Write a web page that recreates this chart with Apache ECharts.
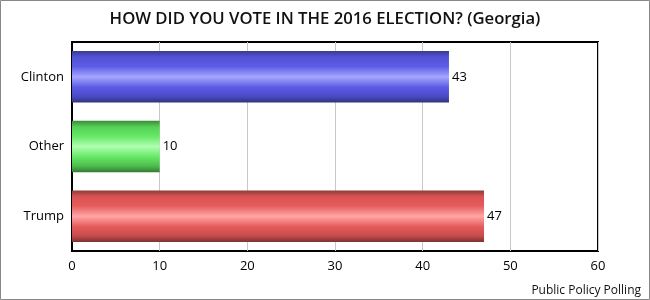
<!DOCTYPE html>
<html><head><meta charset="utf-8">
<script src="https://cdn.jsdelivr.net/npm/echarts@6/dist/echarts.min.js"></script>
<style>html,body{margin:0;padding:0;background:#fff}#c{width:650px;height:300px}</style>
</head><body><div id="c"></div>
<script>
const categories = ['Clinton', 'Other', 'Trump'];
const values = [43, 10, 47];
const xTicks = [0, 10, 20, 30, 40, 50, 60];
const titleText = 'HOW DID YOU VOTE IN THE 2016 ELECTION? (Georgia)';
const sourceText = 'Public Policy Polling';
const palettes = [
  ['#3a3a8c', '#5252d8', '#5c5ce6', '#a6a6ff', '#5c5ce6', '#4a4ac8', '#33337a'],
  ['#3a8a3a', '#55d055', '#66e866', '#b0ffb0', '#66e866', '#4cbc4c', '#347a34'],
  ['#8c3a3a', '#d85252', '#e65c5c', '#ffa6a6', '#e65c5c', '#c84a4a', '#7a3333']
];
function grad(p) {
  const offs = [0, 0.12, 0.3, 0.5, 0.7, 0.88, 1];
  return new echarts.graphic.LinearGradient(0, 0, 0, 1, p.map((c, i) => ({offset: offs[i], color: c})));
}
const chart = echarts.init(document.getElementById('c'), null, {renderer: 'canvas'});
const font = '"Open Sans", sans-serif';
chart.setOption({
  animation: false,
  title: {text: titleText, left: 'center', top: 6,
    textStyle: {fontFamily: font, fontSize: 16.7, fontWeight: 600, color: '#111'}},
  graphic: [
    {type: 'rect', shape: {x: 0.5, y: 0.5, width: 649, height: 299}, style: {fill: 'none', stroke: '#888', lineWidth: 1}, z: 100},
    {type: 'text', right: 9, top: 285, style: {text: sourceText, font: '12px "Open Sans", sans-serif', fill: '#111'}}
  ],
  grid: {left: 72, right: 52, top: 42, bottom: 49, show: true, borderColor: '#000', borderWidth: 2, containLabel: false},
  xAxis: {type: 'value', min: 0, max: 60, interval: 10,
    axisLine: {show: false}, axisTick: {show: false},
    axisLabel: {fontFamily: font, fontSize: 13, color: '#000', margin: 9,
      formatter: v => xTicks.includes(v) ? String(v) : ''},
    splitLine: {show: true, lineStyle: {color: '#c8c8c8', width: 1}}},
  yAxis: {type: 'category', data: categories, inverse: true,
    axisLine: {show: true, lineStyle: {color: '#000', width: 2}}, axisTick: {show: false},
    axisLabel: {fontFamily: font, fontSize: 13, color: '#000', margin: 8}},
  series: [{type: 'bar', barWidth: '74%',
    data: values.map((v, i) => ({value: v, itemStyle: {color: grad(palettes[i])}})),
    label: {show: true, position: 'right', distance: 3, fontFamily: font, fontSize: 13, color: '#000'}}]
});
</script></body></html>
